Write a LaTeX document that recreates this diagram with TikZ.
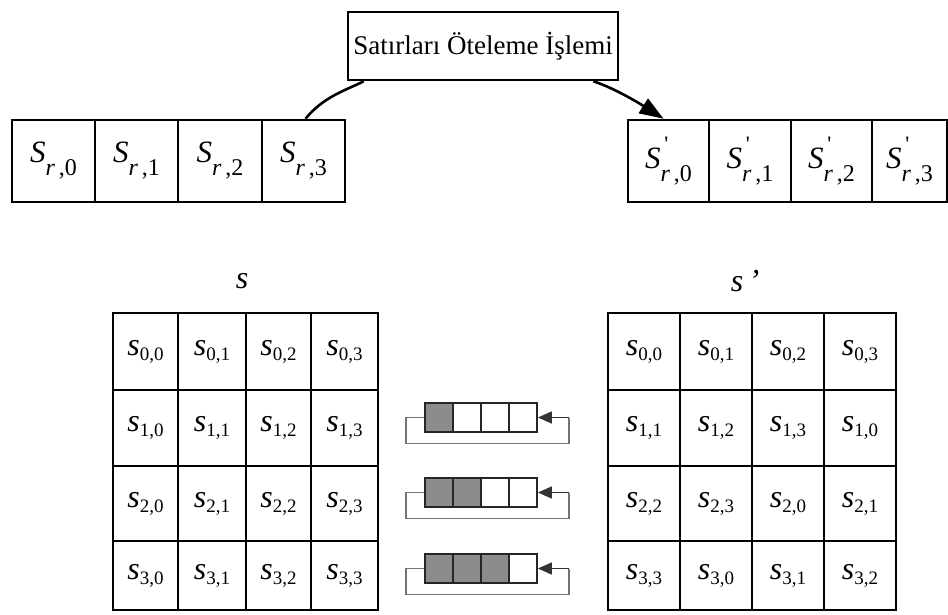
\documentclass[tikz,border=0pt]{standalone}
\usepackage{fontspec}
\setmainfont{Liberation Serif}
\usetikzlibrary{arrows.meta}
\newcommand\se[2]{{\fontsize{32}{32}\selectfont\itshape s}\raisebox{-5pt}{\fontsize{19}{19}\selectfont #1,#2}}
\newcommand\sr[1]{{\fontsize{31}{31}\selectfont\itshape S}\raisebox{-13pt}{\fontsize{24}{24}\selectfont\itshape r\,\upshape,#1}}
\newcommand\srp[1]{{\fontsize{31}{31}\selectfont\itshape S}\rlap{\raisebox{17pt}{\fontsize{22}{22}\selectfont\,\textquotesingle}}\raisebox{-13pt}{\fontsize{24}{24}\selectfont\itshape r\,\upshape,#1}}
\begin{document}
\begin{tikzpicture}[x=1pt,y=-1pt,
  titlebox/.style={draw, line width=2.6pt, rectangle, inner sep=0pt},
  rowcell/.style={draw, line width=2.6pt, rectangle, inner sep=0pt, minimum height=82pt},
  mcell/.style={draw, line width=1.8pt, rectangle, inner sep=0pt},
  regcell/.style={draw=black!85, line width=1.8pt, rectangle, inner sep=0pt, minimum width=28pt, minimum height=29pt},
  conn/.style={line width=2.6pt},
  loopline/.style={draw=black!55, line width=1.6pt},
  arr/.style={draw=black!80, line width=1.6pt, -{Triangle[length=14pt,width=12pt]}}]
\useasboundingbox (0,0) rectangle (948,615);
% title
\node[titlebox, minimum width=270pt, minimum height=68pt] (title) at (483,46)
  {\fontsize{27}{30}\selectfont Satırları Öteleme İşlemi};
% rows
\foreach \a/\b/\i in {12/95/0,95/178/1,178/262/2,262/345/3}
  \node[rowcell, minimum width={(\b-\a)*1pt}] (L\i) at ({(\a+\b)/2},161) {\sr{\i}};
\foreach \a/\b/\i in {628/709/0,709/791/1,791/872/2,872/947/3}
  \node[rowcell, minimum width={(\b-\a)*1pt}] (R\i) at ({(\a+\b)/2},161) {\srp{\i}};
% connectors
\draw[conn] ([xshift=2pt]L3.north) .. controls +(18,-22) and +(-18,9) .. ([xshift=17pt]title.south west);
\draw[conn,-{Triangle[length=24pt,width=17pt]}] ([xshift=-26pt]title.south east)
  .. controls +(22,7) and +(-22,-14) .. ([xshift=-5pt]R0.north);
% labels
\node (lblS) at (242,281) {\fontsize{32}{32}\selectfont\itshape s};
\node (lblSp) at (745,281) {\fontsize{32}{32}\selectfont\itshape s\,’};
% matrices
\foreach \r/\ya/\yb in {0/313/390,1/390/466,2/466/541,3/541/610}{
  \foreach \c/\xa/\xb in {0/113/178,1/178/246,2/246/311,3/311/378}{
    \node[mcell, minimum width={(\xb-\xa)*1pt}, minimum height={(\yb-\ya)*1pt}]
      (A\r\c) at ({(\xa+\xb)/2},{(\ya+\yb)/2}) {\se{\r}{\c}};
  }
  \foreach \c/\xa/\xb in {0/608/680,1/680/752,2/752/824,3/824/896}{
    \pgfmathtruncatemacro{\k}{mod(\c+\r,4)}
    \node[mcell, minimum width={(\xb-\xa)*1pt}, minimum height={(\yb-\ya)*1pt}]
      (B\r\c) at ({(\xa+\xb)/2},{(\ya+\yb)/2}) {\se{\r}{\k}};
  }
}
% shift registers
\foreach \k/\t in {1/403,2/478,3/554}{
  \foreach \j in {0,1,2,3}{
    \pgfmathsetmacro{\fc}{\j<\k ? "black!45" : "white"}
    \node[regcell, fill=\fc] (Q\k\j) at ({439+28*\j},{\t+14.5}) {};
  }
  \coordinate (C\k) at ([xshift=31pt]Q\k3.east);
  \draw[loopline] (Q\k0.west) -- ++(-18,0) -- ++(0,26) -| (C\k);
  \draw[arr] (C\k) -- (Q\k3.east);
}
\end{tikzpicture}
\end{document}
